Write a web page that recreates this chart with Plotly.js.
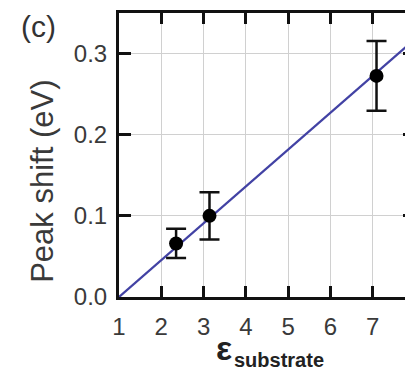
<!DOCTYPE html>
<html>
<head>
<meta charset="utf-8">
<script src="https://cdn.plot.ly/plotly-3.0.1.min.js"></script>
<style>
html,body{margin:0;padding:0;overflow:hidden;background:#fff;}
#chart{width:430px;height:381px;}
</style>
</head>
<body>
<div id="chart"></div>
<script>
// Data
var epsSubstrate = [2.35, 3.14, 7.09];
var peakShift = [0.066, 0.100, 0.2725];
var peakShiftErr = [0.018, 0.029, 0.043];
var fitX = [1, 8];
var fitY = [0, 0.318];
var xTicks = [1, 2, 3, 4, 5, 6, 7];
var yTicks = [0.0, 0.1, 0.2, 0.3];
var yTickLabels = ['0.0', '0.1', '0.2', '0.3'];

var W = 430, H = 381;
var mL = 118.5, mT = 13.2, plotW = 296.8, plotH = 283.5;
function px2paperX(px){ return (px - mL) / plotW; }
function py2paperY(py){ return (mT + plotH - py) / plotH; }

var traces = [
  {
    x: fitX, y: fitY, mode: 'lines', type: 'scatter',
    line: {color: '#4242a4', width: 2.2}, hoverinfo: 'skip', showlegend: false
  },
  {
    x: epsSubstrate, y: peakShift, mode: 'markers', type: 'scatter',
    marker: {color: '#000', size: 14},
    error_y: {type: 'data', array: peakShiftErr, visible: true, color: '#111', thickness: 2.5, width: 10},
    showlegend: false
  }
];

var axisFont = {family: 'Liberation Sans, Arial, sans-serif', size: 24, color: '#3a3a3a'};

var layout = {
  width: W, height: H,
  margin: {l: mL, r: W - mL - plotW, t: mT, b: H - mT - plotH, pad: 0},
  paper_bgcolor: '#fff', plot_bgcolor: '#fff',
  showlegend: false,
  xaxis: {
    range: [1, 8], tickvals: xTicks, ticktext: xTicks.map(String),
    ticks: 'inside', ticklen: 11, tickwidth: 3, tickcolor: '#111',
    showline: true, linewidth: 3, linecolor: '#111', mirror: 'ticks',
    showgrid: true, gridcolor: '#d0d0d0', gridwidth: 1,
    zeroline: false, tickfont: axisFont, ticklabelstandoff: 6
  },
  yaxis: {
    range: [0, 0.35], tickvals: yTicks, ticktext: yTickLabels,
    ticks: 'inside', ticklen: 12, tickwidth: 3, tickcolor: '#111',
    showline: true, linewidth: 3, linecolor: '#111', mirror: 'ticks',
    showgrid: true, gridcolor: '#d0d0d0', gridwidth: 1,
    zeroline: false, tickfont: axisFont, ticklabelstandoff: 4
  },
  annotations: [
    {text: '(c)', xref: 'paper', yref: 'paper', x: px2paperX(38), y: py2paperY(27),
     xanchor: 'center', yanchor: 'middle', showarrow: false,
     font: {family: 'Liberation Sans, Arial, sans-serif', size: 30, color: '#333'}},
    {text: 'Peak shift (eV)', xref: 'paper', yref: 'paper', x: px2paperX(41), y: py2paperY(181),
     xanchor: 'center', yanchor: 'middle', showarrow: false, textangle: -90,
     font: {family: 'Liberation Sans, Arial, sans-serif', size: 31, color: '#3a3a3a'}},
    {text: '<b>ε</b>', xref: 'paper', yref: 'paper', x: px2paperX(224), y: py2paperY(348),
     xanchor: 'center', yanchor: 'middle', showarrow: false,
     font: {family: 'Liberation Sans, Arial, sans-serif', size: 34, color: '#222'}},
    {text: '<b>substrate</b>', xref: 'paper', yref: 'paper', x: px2paperX(279), y: py2paperY(360),
     xanchor: 'center', yanchor: 'middle', showarrow: false,
     font: {family: 'Liberation Sans, Arial, sans-serif', size: 20, color: '#222'}}
  ]
};

Plotly.newPlot('chart', traces, layout, {displayModeBar: false, staticPlot: true});
</script>
</body>
</html>
